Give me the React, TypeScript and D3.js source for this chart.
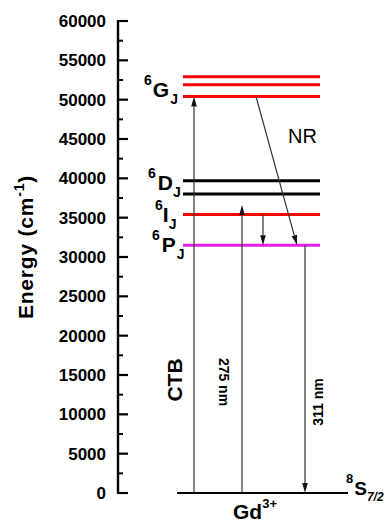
import React from "react";
import * as d3 from "d3";

// Gd3+ energy levels (cm^-1)
const levelNames = ["6G", "6D", "6I", "6P"];
const levelEnergies = [
  [52900, 51900, 50400],
  [39700, 38000],
  [35400],
  [31500],
];
const levelColors = ["#ff0000", "#000000", "#ff0000", "#e61ee6"];
const groundEnergy = 0;

// Transitions: [fromEnergy, toEnergy]
const ctbExcitation = [0, 50400];
const excitation275 = [0, 36600];
const relaxIP = [35400, 31500];
const nrRelax = [50400, 31500];
const emission311 = [31500, 0];

const yTicks = [0, 5000, 10000, 15000, 20000, 25000, 30000, 35000, 40000, 45000, 50000, 55000, 60000];

const W = 387;
const H = 524;
const FONT = "'Liberation Sans', Arial, Helvetica, sans-serif";

const y = d3.scaleLinear().domain([0, 60000]).range([493, 21]);
const axisX = 118;

function Arrow({ x1, e1, x2, e2 }: { x1: number; e1: number; x2: number; e2: number }) {
  const y1 = y(e1);
  const y2 = y(e2);
  const dx = x2 - x1;
  const dy = y2 - y1;
  const len = Math.hypot(dx, dy);
  const ux = dx / len;
  const uy = dy / len;
  const hl = 10;
  const hw = 2.8;
  const bx = x2 - ux * hl;
  const by = y2 - uy * hl;
  const pts = [
    [x2, y2],
    [bx - uy * hw, by + ux * hw],
    [bx + uy * hw, by - ux * hw],
  ];
  return (
    <g>
      <line x1={x1} y1={y1} x2={bx} y2={by} stroke="#333" strokeWidth={1.2} />
      <polygon points={pts.map((p) => p.join(",")).join(" ")} fill="#111" />
    </g>
  );
}

function LevelLabel({ x, yb, sup, main, sub, supDx = 1, subDx = 2 }: any) {
  return (
    <text x={x} y={yb} fontFamily={FONT} fontWeight="bold" fontSize={21} fill="#000">
      <tspan fontSize={14} dy={-12}>{sup}</tspan>
      <tspan dy={12} dx={supDx}>{main}</tspan>
      <tspan fontSize={14} dy={7} dx={subDx}>{sub}</tspan>
    </text>
  );
}

export default function App() {
  const minorTicks = d3.range(2500, 60000, 5000);
  const levelX0 = 183;
  const levelX1 = 320;

  return (
    <svg width={W} height={H} style={{ position: "absolute", left: 0, top: 0, background: "#fff" }}>
      {/* axis */}
      <line x1={axisX} x2={axisX} y1={y(0) + 1} y2={y(60000) - 1} stroke="#000" strokeWidth={2.4} />
      {yTicks.map((t) => (
        <g key={t}>
          <line x1={axisX} x2={axisX + 10} y1={y(t)} y2={y(t)} stroke="#000" strokeWidth={2.2} />
          <text
            x={106}
            y={y(t)}
            dy="0.36em"
            textAnchor="end"
            fontFamily={FONT}
            fontWeight="bold"
            fontSize={17}
            fill="#000"
          >
            {t}
          </text>
        </g>
      ))}
      {minorTicks.map((t) => (
        <line key={t} x1={axisX} x2={axisX + 5} y1={y(t)} y2={y(t)} stroke="#000" strokeWidth={2} />
      ))}
      <text
        transform="translate(33,247) rotate(-90)"
        textAnchor="middle"
        fontFamily={FONT}
        fontWeight="bold"
        fontSize={21}
        letterSpacing={0.8}
        fill="#000"
      >
        Energy (cm<tspan fontSize={14} dy={-9}>-1</tspan>
        <tspan dy={9}>)</tspan>
      </text>

      {/* levels */}
      {levelEnergies.map((es, i) =>
        es.map((e, j) => (
          <line
            key={levelNames[i] + j}
            x1={levelX0}
            x2={levelX1}
            y1={y(e)}
            y2={y(e)}
            stroke={levelColors[i]}
            strokeWidth={3}
          />
        ))
      )}
      <line x1={177} x2={348} y1={y(groundEnergy)} y2={y(groundEnergy)} stroke="#000" strokeWidth={2} />

      {/* transitions */}
      <Arrow x1={194} e1={ctbExcitation[0]} x2={194} e2={ctbExcitation[1]} />
      <Arrow x1={242} e1={excitation275[0]} x2={242} e2={excitation275[1]} />
      <Arrow x1={263} e1={relaxIP[0]} x2={263} e2={relaxIP[1]} />
      <Arrow x1={256} e1={nrRelax[0]} x2={297} e2={nrRelax[1]} />
      <Arrow x1={305} e1={emission311[0]} x2={305} e2={emission311[1]} />

      {/* level labels */}
      <LevelLabel x={144} yb={97} sup="6" main="G" sub="J" supDx={1} subDx={1} />
      <LevelLabel x={148} yb={190} sup="6" main="D" sub="J" supDx={2} subDx={0} />
      <LevelLabel x={155} yb={222} sup="6" main="I" sub="J" supDx={0} subDx={0} />
      <LevelLabel x={152} yb={252} sup="6" main="P" sub="J" supDx={2} subDx={1} />

      <text x={288} y={143} fontFamily={FONT} fontSize={20} fill="#000">NR</text>

      <text transform="translate(182,380) rotate(-90)" textAnchor="middle" fontFamily={FONT} fontWeight="bold" fontSize={21} fill="#000">
        CTB
      </text>
      <text transform="translate(219,382) rotate(90)" textAnchor="middle" fontFamily={FONT} fontWeight="bold" fontSize={14} fill="#000">
        275 nm
      </text>
      <text transform="translate(323,402) rotate(-90)" textAnchor="middle" fontFamily={FONT} fontWeight="bold" fontSize={14} fill="#000">
        311 nm
      </text>

      <text x={233} y={519} fontFamily={FONT} fontWeight="bold" fontSize={21} fill="#000">
        Gd<tspan fontSize={13} dy={-11}>3+</tspan>
      </text>
      <text x={346} y={495} fontFamily={FONT} fontWeight="bold" fontSize={19} fill="#000">
        <tspan fontSize={13} dy={-12}>8</tspan>
        <tspan dy={12} dx={1}>S</tspan>
        <tspan fontSize={12} fontStyle="italic" dy={6} dx={0}>7/2</tspan>
      </text>
    </svg>
  );
}
